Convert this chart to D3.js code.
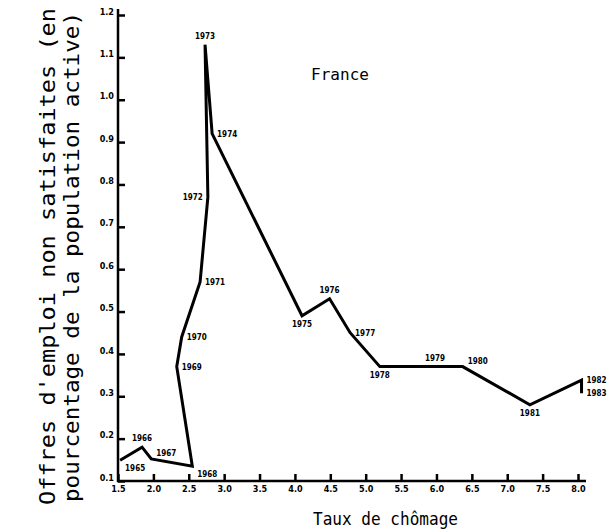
<!DOCTYPE html>
<html>
<head>
<meta charset="utf-8">
<script src="https://cdn.jsdelivr.net/npm/d3@7"></script>
<style>
  body { margin: 0; background: white; }
  svg { display: block; }
</style>
</head>
<body>
<div id="chart"></div>
<script>
// data
let years = ["1965","1966","1967","1968","1969","1970","1971","1972","1973","1974",
             "1975","1976","1977","1978","1979","1980","1981","1982","1983"];
let chomage = [1.53, 1.84, 1.97, 2.55, 2.33, 2.40, 2.66, 2.77, 2.73, 2.83,
               4.10, 4.49, 4.78, 5.20, 5.98, 6.37, 7.32, 8.05, 8.05];
let offres = [0.149, 0.18, 0.152, 0.135, 0.37, 0.44, 0.57, 0.77, 1.13, 0.92,
              0.49, 0.53, 0.45, 0.37, 0.37, 0.37, 0.28, 0.338, 0.307];
// where the year label sits relative to its point
let labelSide = ["rb","t","rt","rb","r","r","r","l","t","r",
                 "b","t","r","b","t","rt","b","r","r"];

let xTicks = [1.5,2.0,2.5,3.0,3.5,4.0,4.5,5.0,5.5,6.0,6.5,7.0,7.5,8.0];
let yTicks = [0.1,0.2,0.3,0.4,0.5,0.6,0.7,0.8,0.9,1.0,1.1,1.2];

let w = 613;
let h = 532;

let svg = d3.select("#chart")
  .append("svg")
    .attr("width", w)
    .attr("height", h)
    .style("background-color", "white")
;

let x = d3.scaleLinear().domain([1.5, 8.0]).range([118, 578]);
let y = d3.scaleLinear().domain([0.1, 1.2]).range([481, 15]);

//x axis
let gx = svg.append("g")
    .attr("transform", "translate(0,481)")
    .call(d3.axisBottom(x).tickValues(xTicks).tickSize(-7).tickSizeOuter(0)
      .tickFormat(d3.format(".1f")))
;
gx.select(".domain").remove();
gx.selectAll("line").attr("stroke", "black").attr("stroke-width", 2.5);
gx.selectAll("text")
    .attr("y", 5)
    .style("font-family", "'DejaVu Sans Condensed'")
    .style("font-weight", "bold")
    .style("font-size", "9px")
    .attr("fill", "black")
;
svg.append("line")
    .attr("x1", 117).attr("x2", 586)
    .attr("y1", 481).attr("y2", 481)
    .attr("stroke", "black").attr("stroke-width", 2.5)
;

//y axis
let gy = svg.append("g")
    .attr("transform", "translate(118,0)")
    .call(d3.axisLeft(y).tickValues(yTicks).tickSize(-7).tickSizeOuter(0)
      .tickFormat(d3.format(".1f")))
;
gy.select(".domain").remove();
gy.selectAll("line").attr("stroke", "black").attr("stroke-width", 2.5);
gy.selectAll("text")
    .attr("x", -4)
    .attr("dy", "-0.1em")
    .style("font-family", "'DejaVu Sans Condensed'")
    .style("font-weight", "bold")
    .style("font-size", "9px")
    .attr("fill", "black")
;
svg.append("line")
    .attr("x1", 118).attr("x2", 118)
    .attr("y1", 482).attr("y2", 9)
    .attr("stroke", "black").attr("stroke-width", 2.5)
;

//the trajectory
let pts = years.map(function(d, i){ return {year: d, u: chomage[i], v: offres[i], side: labelSide[i]}; });

let line = d3.line()
    .x(function(d){ return x(d.u); })
    .y(function(d){ return y(d.v); })
;

svg.append("path")
    .datum(pts)
    .attr("d", line)
    .attr("fill", "none")
    .attr("stroke", "black")
    .attr("stroke-width", 3)
    .attr("stroke-linejoin", "miter")
;

function labelDx(s){
  if (s == "r" || s == "rb" || s == "rt") { return 5; }
  if (s == "l") { return -5; }
  return 0;
}
function labelDy(s){
  if (s == "t") { return -6; }
  if (s == "b" || s == "rb") { return 11; }
  if (s == "rt") { return -3; }
  return 3;
}
function labelAnchor(s){
  if (s == "r" || s == "rb" || s == "rt") { return "start"; }
  if (s == "l") { return "end"; }
  return "middle";
}

svg.selectAll(".yr")
  .data(pts)
  .enter()
  .append("text")
    .attr("class", "yr")
    .attr("x", function(d){ return x(d.u) + labelDx(d.side); })
    .attr("y", function(d){ return y(d.v) + labelDy(d.side); })
    .attr("text-anchor", function(d){ return labelAnchor(d.side); })
    .style("font-family", "'DejaVu Sans Condensed'")
    .style("font-weight", "bold")
    .style("font-size", "8px")
    .text(function(d){ return d.year; })
;

//titles
svg.append("text")
    .attr("x", 340).attr("y", 80)
    .attr("text-anchor", "middle")
    .style("font-family", "'DejaVu Sans Mono'")
    .style("font-size", "16px")
    .text("France")
;

svg.append("text")
    .attr("x", 313).attr("y", 525)
    .attr("textLength", 145)
    .attr("lengthAdjust", "spacingAndGlyphs")
    .style("font-family", "'DejaVu Sans Mono'")
    .style("font-size", "17px")
    .text("Taux de chômage")
;

svg.append("text")
    .attr("transform", "translate(55,505) rotate(-90)")
    .attr("textLength", 497)
    .attr("lengthAdjust", "spacingAndGlyphs")
    .style("font-family", "'DejaVu Sans Mono'")
    .style("font-size", "22px")
    .text("Offres d'emploi non satisfaites (en")
;

svg.append("text")
    .attr("transform", "translate(79,502) rotate(-90)")
    .attr("textLength", 490)
    .attr("lengthAdjust", "spacingAndGlyphs")
    .style("font-family", "'DejaVu Sans Mono'")
    .style("font-size", "22px")
    .text("pourcentage de la population active)")
;
</script>
</body>
</html>
